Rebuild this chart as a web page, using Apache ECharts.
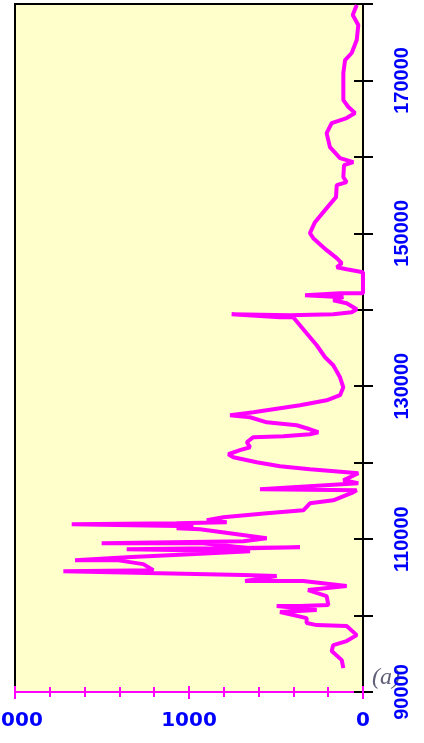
<!DOCTYPE html>
<html><head><meta charset="utf-8">
<script src="https://cdn.jsdelivr.net/npm/echarts@6/dist/echarts.min.js"></script>
<style>html,body{margin:0;padding:0;background:#fff}#c{width:424px;height:743px}</style>
</head><body><div id="c"></div>
<script>
// depth (y, right axis) and measured value (x, bottom axis, reversed)
const depth = [179870,178560,177250,175290,173590,172670,170970,167430,166520,165730,165080,164420,163110,161280,159840,159320,158930,157350,156700,156310,154740,153300,151460,150020,149370,147800,146750,146090,145570,145310,144920,142170,142170,141910,141650,141250,140860,140080,139680,139420,139290,139420,139030,139030,136930,135360,133790,132740,131170,129860,128820,128160,127510,126590,126200,125940,125280,124890,124370,123980,123720,123460,123330,122670,122020,121630,121100,120710,120060,119530,119140,118750,118620,117690,117300,116510,116380,116120,115070,114680,113770,113370,112850,112460,112200,112070,111940,111680,111420,111290,110110,109720,109460,109460,108810,108940,108680,108420,108030,107640,107250,107250,106730,105940,105810,105550,105290,105160,104510,104510,103860,103330,102550,101370,101240,101240,100720,100460,99670,99020,98750,98620,97440,96660,96140,95350,94170,93130];
const value = [36,59,27,36,65,103,113,113,84,46,94,180,209,190,132,56,109,113,94,151,155,209,276,305,286,209,151,122,151,94,0,0,132,333,113,171,94,36,65,171,420,755,477,401,324,266,218,171,132,113,132,209,362,630,764,649,553,381,305,257,305,458,630,668,649,707,774,745,611,477,305,94,27,113,27,592,36,57,171,305,343,553,803,898,783,1071,1674,975,1071,937,553,688,1502,918,649,362,1358,649,994,1358,1655,1415,1263,1205,1722,1167,688,496,678,343,94,316,209,199,362,496,266,477,324,324,266,94,36,94,171,180,122,113];
const xRange = [0, 2000];
const yRange = [90000, 180000];
const yLabelValues = [90000, 110000, 130000, 150000, 170000];
const panelTag = '(a)';

const seriesData = depth.map((d, i) => [value[i], d]);

const chart = echarts.init(document.getElementById('c'), null, {renderer: 'canvas'});
const magenta = '#ff00ff';
const blue = '#0000ff';
const xLabel = {color: blue, fontFamily: 'DejaVu Sans', fontWeight: 'bold', fontSize: 20, margin: 19, showMinLabel: true, showMaxLabel: true, formatter: v => String(v)};
const yFmt = v => (yLabelValues.indexOf(v) >= 0 ? String(v) : '');
chart.setOption({
  animation: false,
  backgroundColor: '#ffffff',
  grid: {left: 15, right: 61, top: 4, bottom: 51, containLabel: false, outerBoundsMode: 'none', show: true, backgroundColor: '#ffffcc', borderColor: '#000', borderWidth: 2},
  xAxis: [
    {type: 'value', inverse: true, min: xRange[0], max: xRange[1], interval: 1000, position: 'bottom',
     axisLine: {show: true, lineStyle: {color: magenta, width: 2}},
     axisTick: {show: true, length: 7, lineStyle: {color: magenta, width: 2}},
     minorTick: {show: true, splitNumber: 5, length: 5, lineStyle: {color: magenta, width: 2}},
     splitLine: {show: false}, axisLabel: xLabel},
    {type: 'value', inverse: true, min: xRange[0], max: xRange[1], interval: 1000, position: 'bottom',
     axisLine: {show: false},
     axisTick: {show: true, inside: true, length: 6, lineStyle: {color: magenta, width: 2}},
     minorTick: {show: true, splitNumber: 5, length: 5, lineStyle: {color: magenta, width: 2}},
     splitLine: {show: false}, axisLabel: {show: false}}
  ],
  yAxis: [
    {type: 'value', min: yRange[0], max: yRange[1], interval: 10000, position: 'right',
     axisLine: {show: true, lineStyle: {color: '#000', width: 2}},
     axisTick: {show: true, length: 10, lineStyle: {color: '#000', width: 2}},
     splitLine: {show: false},
     axisLabel: {rotate: 90, margin: 29, color: blue, fontFamily: 'Liberation Sans', fontWeight: 'bold', fontSize: 20, formatter: yFmt, showMinLabel: true, showMaxLabel: true}},
    {type: 'value', min: yRange[0], max: yRange[1], interval: 10000, position: 'right',
     axisLine: {show: false},
     axisTick: {show: true, inside: true, length: 9, lineStyle: {color: '#000', width: 2}},
     splitLine: {show: false}, axisLabel: {show: false}}
  ],
  graphic: [{type: 'text', left: 372, top: 666, z: -1, zlevel: 0,
    style: {text: panelTag, font: 'italic 24px "Liberation Serif"', fill: '#5f5f78'}}],
  series: [{type: 'line', xAxisIndex: 0, yAxisIndex: 0, data: seriesData, showSymbol: false, symbol: 'none',
    lineStyle: {color: magenta, width: 4}, z: 3}]
});
</script></body></html>
